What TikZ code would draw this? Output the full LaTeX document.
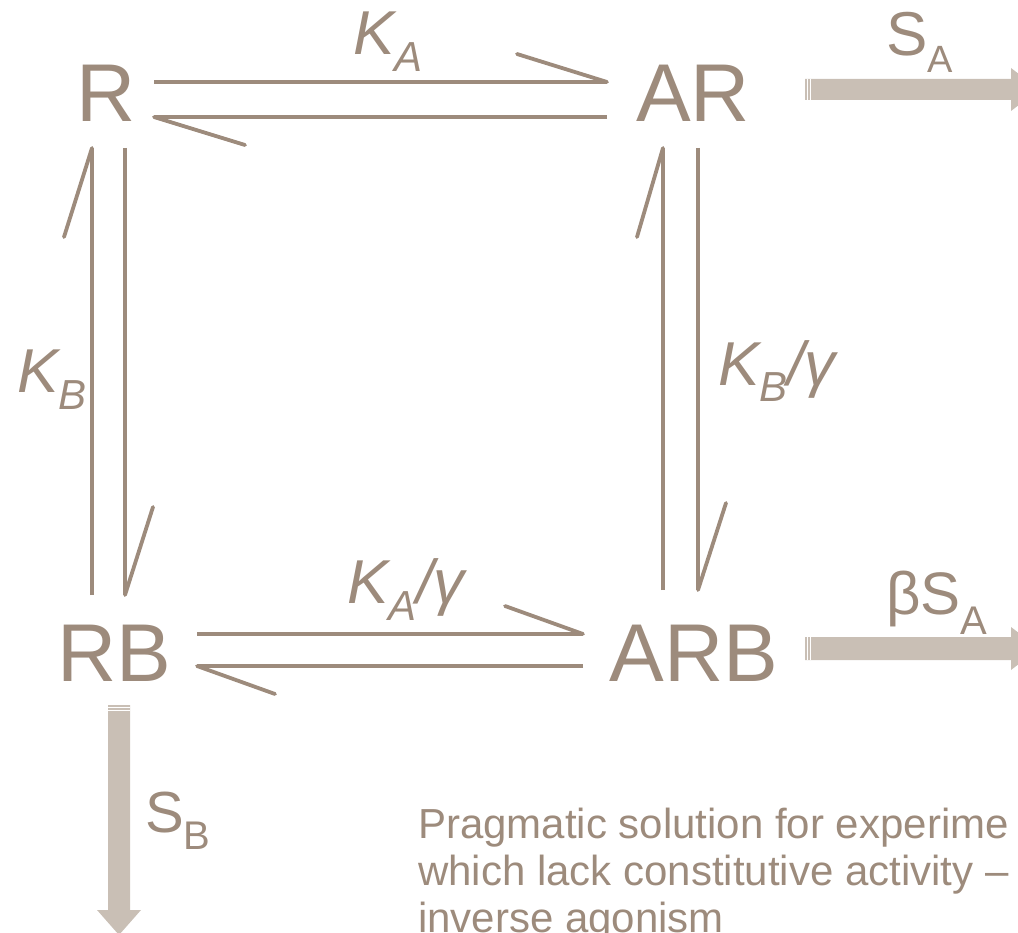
\documentclass[tikz,border=0pt]{standalone}
\usepackage{fontspec}
\setmainfont{Liberation Sans}
\usetikzlibrary{calc}
\definecolor{lncol}{HTML}{9D8B7C}
\definecolor{fatcol}{HTML}{C9BFB5}
\newcommand\KSub[2]{{\itshape K\raisebox{-17pt}{\fontsize{42}{42}\selectfont #1}#2}}
\newcommand\SSub[4]{#1\raisebox{-#3pt}{\fontsize{#4}{#4}\selectfont #2}}
\begin{document}
\begin{tikzpicture}[x=1pt,y=-1pt,
  species/.style={inner sep=0pt, text=lncol, font=\fontsize{82}{82}\selectfont},
  rate/.style={inner sep=0pt, text=lncol, anchor=base west, font=\fontsize{62}{62}\selectfont},
  flux/.style={inner sep=0pt, text=lncol, anchor=base west},
  note/.style={inner sep=0pt, text=lncol, anchor=base west, font=\fontsize{42}{47}\selectfont},
  eqline/.style={draw=lncol, line width=3.8pt},
  barb/.style={draw=lncol, line width=3.8pt, line cap=round},
  fat/.style={fill=fatcol},
  gap/.style={draw=white, line width=1.1pt}]
\useasboundingbox (0,0) rectangle (1018,933);

% species
\node[species] (R)   at (106,93.6)  {R};
\node[species] (AR)  at (693,93.6)  {AR};
\node[species] (RB)  at (114,653.6) {RB};
\node[species] (ARB) at (694,653.6) {ARB};

% R <-> AR
\draw[eqline] ($(R.center)+(48,-11.6)$) coordinate (t1a) -- ($(AR.center)+(-86,-11.6)$) coordinate (t1b);
\draw[barb] (t1b) -- ++(-90,-28);
\draw[eqline] ($(AR.center)+(-86,23.4)$) coordinate (t2b) -- ($(R.center)+(48,23.4)$) coordinate (t2a);
\draw[barb] (t2a) -- ++(91,28);

% R <-> RB
\draw[eqline] ($(RB.center)+(-22,-58.6)$) coordinate (l1b) -- ($(R.center)+(-14,54.4)$) coordinate (l1a);
\draw[barb] (l1a) -- ++(-28,89);
\draw[eqline] ($(R.center)+(19,54.4)$) coordinate (l2a) -- ($(RB.center)+(11,-58.6)$) coordinate (l2b);
\draw[barb] (l2b) -- ++(28,-88);

% AR <-> ARB
\draw[eqline] ($(ARB.center)+(-31,-63.6)$) coordinate (r1b) -- ($(AR.center)+(-30,54.4)$) coordinate (r1a);
\draw[barb] (r1a) -- ++(-26,89);
\draw[eqline] ($(AR.center)+(5,54.4)$) coordinate (r2a) -- ($(ARB.center)+(4,-63.6)$) coordinate (r2b);
\draw[barb] (r2b) -- ++(28,-87);

% RB <-> ARB
\draw[eqline] ($(RB.center)+(83,-19.6)$) coordinate (b1a) -- ($(ARB.center)+(-111,-19.6)$) coordinate (b1b);
\draw[barb] (b1b) -- ++(-78,-28);
\draw[eqline] ($(ARB.center)+(-111,12.4)$) coordinate (b2b) -- ($(RB.center)+(83,12.4)$) coordinate (b2a);
\draw[barb] (b2a) -- ++(78,28);

% rate labels
\node[rate] (kA)  at (353,55)  {\KSub{A}{}};
\node[rate] (kB)  at (17,393)  {\KSub{B}{}};
\node[rate] (kBg) at (718,385) {\KSub{B}{/γ}};
\node[rate] (kAg) at (347,603) {\KSub{A}{/γ}};

% signalling arrows
\coordinate (sA) at ($(AR.center)+(112,-4.1)$);
\fill[fat] (sA) ++(0,-10.5) -- ++(206,0) -- ++(0,-11) -- ++(28,21.5) -- ++(-28,21.5) -- ++(0,-11) -- ++(-206,0) -- cycle;
\draw[gap] ($(sA)+(2.2,-10.5)$) -- ++(0,21);
\draw[gap] ($(sA)+(5.2,-10.5)$) -- ++(0,21);

\coordinate (sbA) at ($(ARB.center)+(111,-5.1)$);
\fill[fat] (sbA) ++(0,-11.5) -- ++(206,0) -- ++(0,-10) -- ++(28,21.5) -- ++(-28,21.5) -- ++(0,-10) -- ++(-206,0) -- cycle;
\draw[gap] ($(sbA)+(2.2,-11.5)$) -- ++(0,23);
\draw[gap] ($(sbA)+(5.2,-11.5)$) -- ++(0,23);

\coordinate (sB) at ($(RB.center)+(5,51.4)$);
\fill[fat] (sB) ++(-11,0) -- ++(0,205) -- ++(-11,0) -- ++(22,25) -- ++(22,-25) -- ++(-11,0) -- ++(0,-205) -- cycle;
\draw[gap] ($(sB)+(-11,2.2)$) -- ++(22,0);
\draw[gap] ($(sB)+(-11,5.2)$) -- ++(22,0);

% signalling labels
\node[flux, font=\fontsize{62}{62}\selectfont] (lsA)  at (886,56)  {\SSub{S}{A}{17}{38}};
\node[flux, font=\fontsize{60}{60}\selectfont] (lsbA) at (886,614) {\SSub{βS}{A}{20}{40}};
\node[flux, font=\fontsize{58}{58}\selectfont] (lsB)  at (145,832) {\SSub{S}{B}{17}{40}};

% note
\node[note] (n1) at (418,838) {Pragmatic solution for experime};
\node[note] (n2) at (418,885) {which lack constitutive activity –};
\node[note] (n3) at (418,932) {inverse agonism};
\end{tikzpicture}
\end{document}
